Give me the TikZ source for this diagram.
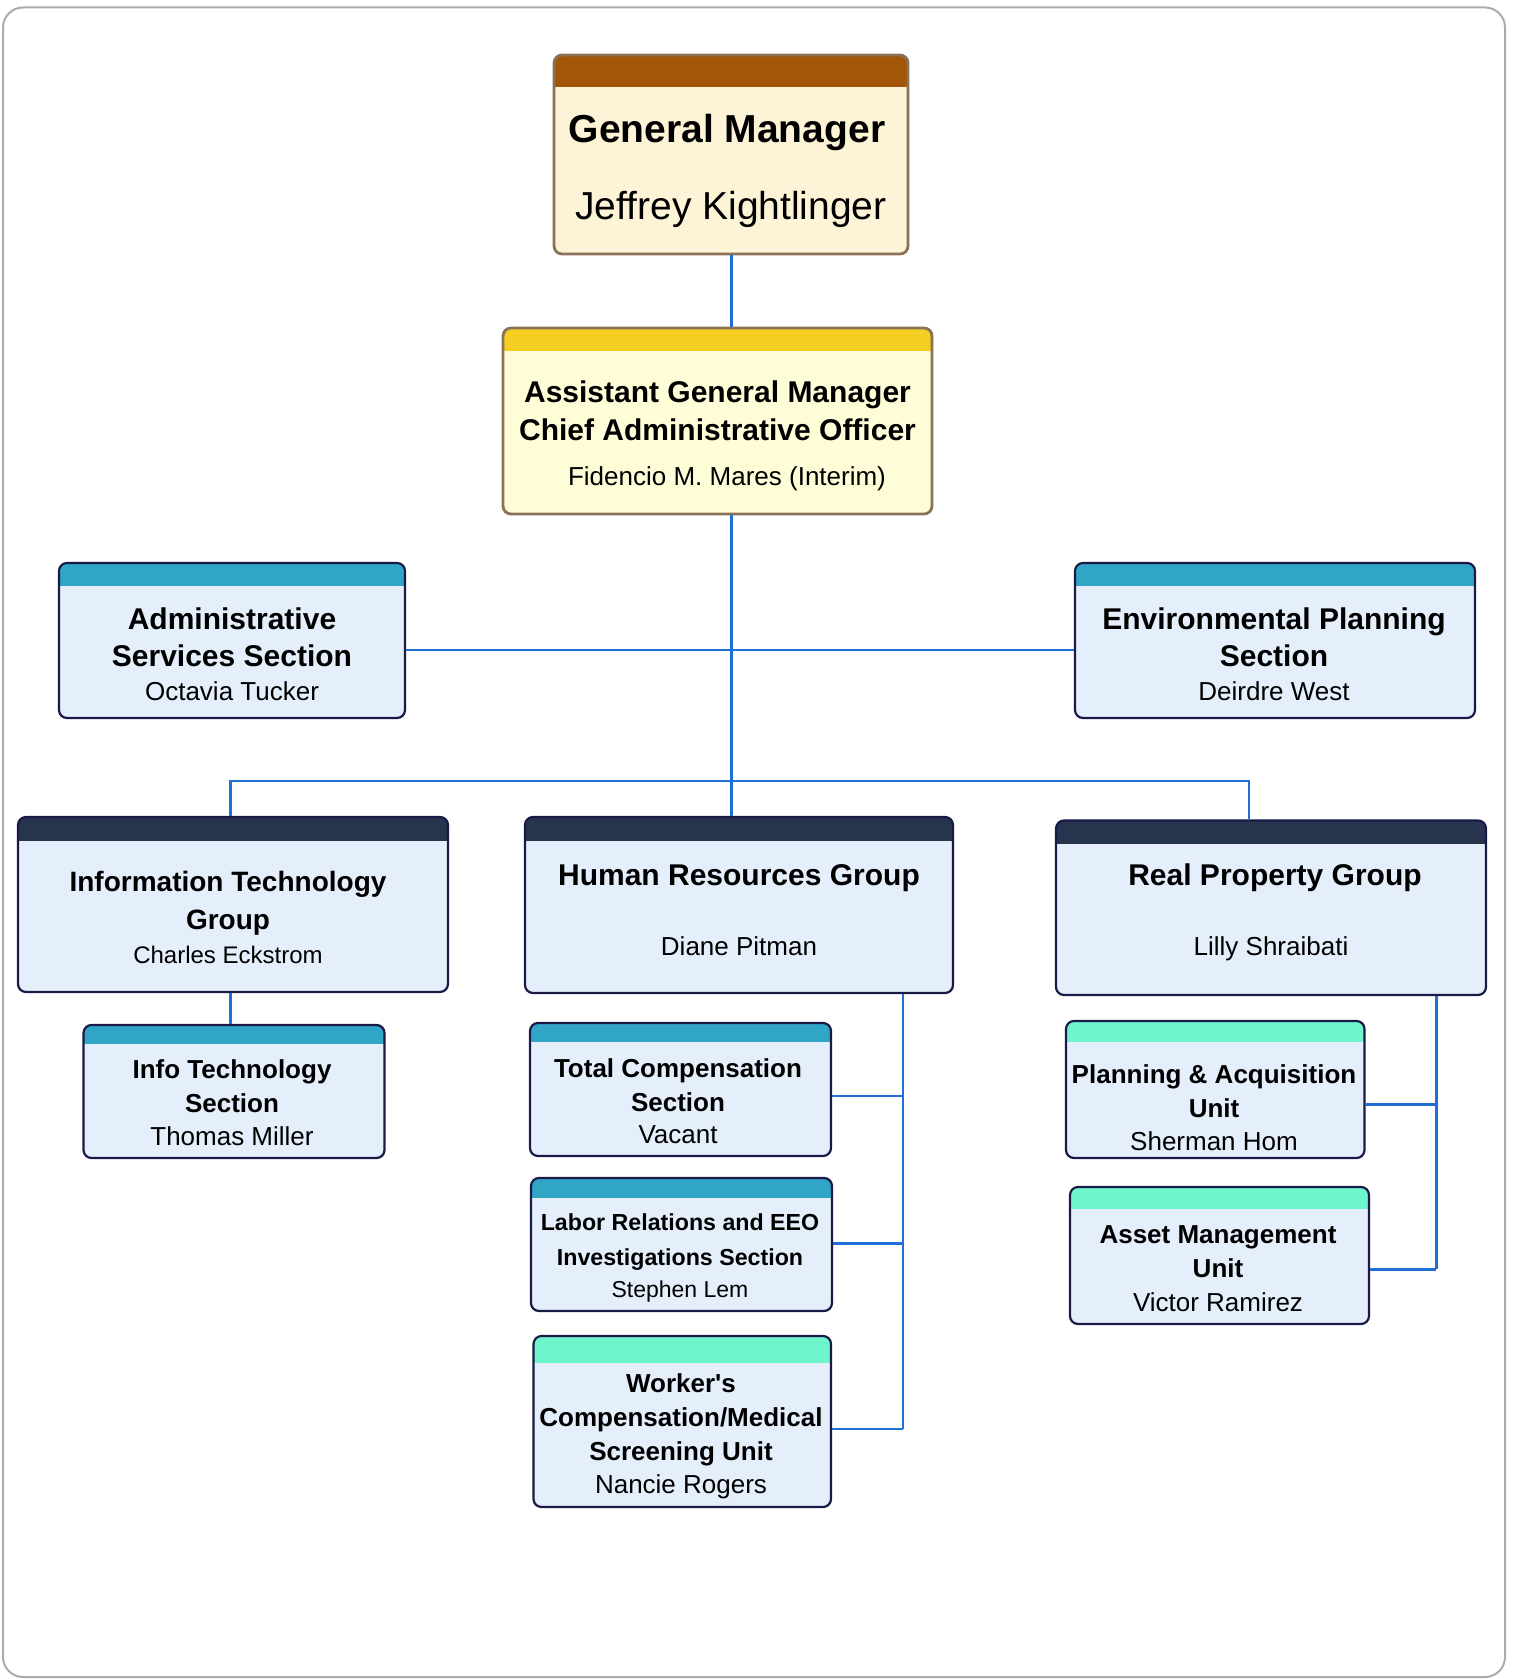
\documentclass[tikz,border=0pt]{standalone}
\usepackage{fontspec}
\setmainfont{Liberation Sans}
\usetikzlibrary{fit}

\definecolor{linkblue}{HTML}{1F6FD6}
\definecolor{framegray}{HTML}{ABABAB}
\definecolor{gmband}{HTML}{A35607}
\definecolor{gmfill}{HTML}{FDF3D7}
\definecolor{gmline}{HTML}{8A7257}
\definecolor{agmband}{HTML}{F5CE22}
\definecolor{agmfill}{HTML}{FEFDD8}
\definecolor{bandteal}{HTML}{31A5C6}
\definecolor{bandnavy}{HTML}{26344D}
\definecolor{bandmint}{HTML}{6FF5CB}
\definecolor{unitfill}{HTML}{E5EFFC}
\definecolor{unitline}{HTML}{1A1A47}

\begin{document}
\begin{tikzpicture}[x=0.5pt, y=-0.5pt]

\useasboundingbox (0,0) rectangle (1521,1679);

% styles
\pgfkeys{/box/.style={draw=unitline, fill=unitfill, line width=1.1pt, rounded corners=4pt, inner sep=0pt}} % every unit box
\pgfkeys{/band/.style 2 args={path picture={\fill[#1, sharp corners] (path picture bounding box.north west) rectangle ([yshift=-#2]path picture bounding box.north east);}}} % coloured top strip
\pgfkeys{/ttl/.style={font=\fontsize{15}{18.75}\selectfont\bfseries, align=center, inner sep=0pt, anchor=north}} % section titles
\pgfkeys{/ttls/.style={/ttl, font=\fontsize{13}{17}\selectfont\bfseries}} % small unit titles
\pgfkeys{/who/.style={font=\fontsize{13}{16}\selectfont, inner sep=0pt, anchor=base}} % names
\pgfkeys{/link/.style={draw=linkblue, line width=1.2pt}} % reporting lines

% outer frame
\draw[framegray, line width=1pt, rounded corners=10pt] (3,7.5) rectangle (1505,1677);

% top two
\node[/box, draw=gmline, fill=gmfill, line width=1.4pt, /band={gmband}{16pt}, fit={(554,55) (908,254)}] (gm) {};
\node[/ttl, anchor=base, font=\fontsize{19.5}{24}\selectfont\bfseries] (gm-t) at (727,142.5) {General Manager};
\node[/who, font=\fontsize{19.5}{24}\selectfont] (gm-n) at (731,219.6) {Jeffrey Kightlinger};

\node[/box, draw=gmline, fill=agmfill, line width=1.4pt, /band={agmband}{11.5pt}, fit={(503,328) (932,514)}] (agm) {};
\node[/ttl, font=\fontsize{15}{19.25}\selectfont\bfseries] (agm-t) at (717.5,380.2) {Assistant General Manager\\Chief Administrative Officer};
\node[/who] (agm-n) at (727,485) {Fidencio M. Mares (Interim)};

% staff sections
\node[/box, /band={bandteal}{11.5pt}, fit={(59,563) (405,718)}] (adm) {};
\node[/ttl] (adm-t) at (232,607.2) {Administrative\\Services Section};
\node[/who] (adm-n) at (232,700.4) {Octavia Tucker};

\node[/box, /band={bandteal}{11.5pt}, fit={(1075,563) (1475,718)}] (env) {};
\node[/ttl] (env-t) at (1274,607.2) {Environmental Planning\\Section};
\node[/who] (env-n) at (1274,700.4) {Deirdre West};

% groups
\node[/box, /band={bandnavy}{12pt}, fit={(18,817) (448,992)}] (itg) {};
\node[/ttl, font=\fontsize{14}{19.25}\selectfont\bfseries] (itg-t) at (228,870.4) {Information Technology\\Group};
\node[/who, font=\fontsize{12}{15}\selectfont] (itg-n) at (228,963) {Charles Eckstrom};

\node[/box, /band={bandnavy}{12pt}, fit={(525,817) (953,993)}] (hr) {};
\node[/ttl, anchor=base] (hr-t) at (739,885.8) {Human Resources Group};
\node[/who] (hr-n) at (739,955.2) {Diane Pitman};

\node[/box, /band={bandnavy}{11.75pt}, fit={(1056,820.5) (1486,995)}] (rpg) {};
\node[/ttl, anchor=base] (rpg-t) at (1275,885.8) {Real Property Group};
\node[/who] (rpg-n) at (1271,955.2) {Lilly Shraibati};

% sections and units below the groups
\node[/box, /band={bandteal}{9.5pt}, fit={(83.5,1025) (384.5,1158)}] (its) {};
\node[/ttls] (its-t) at (232,1059.6) {Info Technology\\Section};
\node[/who] (its-n) at (232,1145.8) {Thomas Miller};

\node[/box, /band={bandteal}{9.5pt}, fit={(530,1023) (831,1156)}] (tcs) {};
\node[/ttls] (tcs-t) at (678,1058.5) {Total Compensation\\Section};
\node[/who] (tcs-n) at (678,1143.7) {Vacant};

\node[/box, /band={bandteal}{9.75pt}, fit={(531,1178) (832,1311)}] (lrs) {};
\node[/ttls, font=\fontsize{11.6}{17.15}\selectfont\bfseries] (lrs-t) at (680,1213.7) {Labor Relations and EEO\\Investigations Section};
\node[/who, font=\fontsize{11.5}{15}\selectfont] (lrs-n) at (680,1297.9) {Stephen Lem};

\node[/box, /band={bandmint}{13.25pt}, fit={(533.5,1336) (831,1507)}] (wcs) {};
\node[/ttls] (wcs-t) at (681,1373.4) {Worker\textquotesingle s\\Compensation/Medical\\Screening Unit};
\node[/who] (wcs-n) at (681,1493.9) {Nancie Rogers};

\node[/box, /band={bandmint}{10.5pt}, fit={(1066,1021) (1364.5,1158)}] (pau) {};
\node[/ttls] (pau-t) at (1214,1063.8) {Planning \& Acquisition\\Unit};
\node[/who] (pau-n) at (1214,1150.1) {Sherman Hom};

\node[/box, /band={bandmint}{11pt}, fit={(1070,1187) (1369,1324)}] (amu) {};
\node[/ttls] (amu-t) at (1218,1225.6) {Asset Management\\Unit};
\node[/who] (amu-n) at (1218,1311.9) {Victor Ramirez};

% reporting lines
\coordinate (spine) at (731.5,650.2);
\coordinate (split-l) at (230.3,780.8);
\coordinate (split-r) at (1248.9,780.8);
\coordinate (hrbus) at (903,1428.9);
\coordinate (rpbus) at (1436.3,1269.3);

\draw[/link] (gm.south -| spine) -- (agm.north -| spine);
\draw[/link] (agm.south -| spine) -- (hr.north -| spine);
\draw[/link] (adm.east |- spine) -- (env.west |- spine);
\draw[/link] (itg.north -| split-l) -- (split-l) -- (split-r) -- (rpg.north -| split-r);
\draw[/link] (itg.south -| split-l) -- (its.north -| split-l);

\draw[/link] (hr.south -| hrbus) -- (hrbus);
\foreach \b/\y in {tcs/1095.7, lrs/1243.5, wcs/1428.9} {
\draw[/link] (\b.east |- 0,\y) -- (hrbus |- 0,\y);
}
\draw[/link] (rpg.south -| rpbus) -- (rpbus);
\foreach \b/\y in {pau/1104.3, amu/1269.3} {
\draw[/link] (\b.east |- 0,\y) -- (rpbus |- 0,\y);
}

\end{tikzpicture}
\end{document}
